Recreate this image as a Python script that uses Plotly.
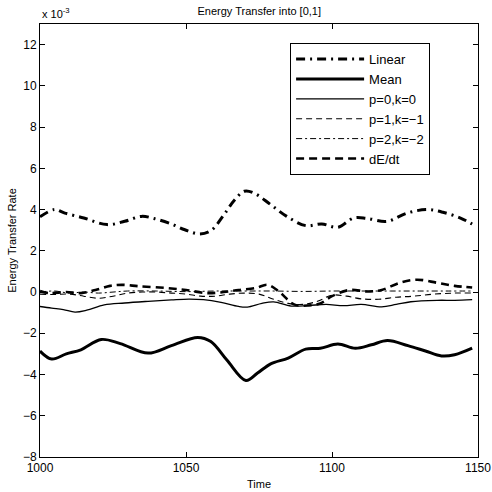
import plotly.graph_objects as go

# ---- data (values in units of 1e-3) ----
t_linear = [1000, 1005, 1008.5, 1015, 1023, 1029, 1034.7, 1039, 1045, 1049.6, 1054.7, 1058.7, 1063, 1066.7, 1070, 1073.3,
            1079, 1084.5, 1091, 1096.5, 1102, 1107.4, 1112, 1118.8, 1125.7, 1132.5, 1138, 1144, 1148]
v_linear = [3.65, 4.0, 3.83, 3.59, 3.27, 3.43, 3.67, 3.57, 3.3, 3.02, 2.82, 3.0, 3.75, 4.48, 4.89, 4.8,
            4.24, 3.67, 3.22, 3.3, 3.14, 3.59, 3.57, 3.43, 3.83, 4.0, 3.87, 3.59, 3.3]

t_mean = [1000, 1004, 1009, 1014, 1021, 1027.5, 1037, 1045, 1054, 1058.5, 1064, 1070.5, 1074.5, 1079, 1085, 1091,
          1096, 1102, 1108, 1113.5, 1119, 1126, 1132, 1137.5, 1142, 1148]
v_mean = [-2.86, -3.25, -3.0, -2.8, -2.3, -2.5, -2.96, -2.6, -2.2, -2.4, -3.3, -4.29, -3.93, -3.48, -3.2, -2.77,
          -2.73, -2.52, -2.73, -2.56, -2.35, -2.6, -2.86, -3.1, -3.04, -2.72]

t_p0 = [1000, 1004, 1008, 1012, 1016, 1022, 1029, 1037, 1045, 1051, 1056, 1062, 1068, 1071, 1076, 1080, 1086,
        1092, 1098, 1104, 1110, 1117, 1122, 1127, 1136, 1142, 1148]
v_p0 = [-0.7, -0.78, -0.85, -0.97, -0.88, -0.62, -0.53, -0.45, -0.38, -0.34, -0.37, -0.5, -0.7, -0.73, -0.55,
        -0.48, -0.68, -0.65, -0.6, -0.66, -0.6, -0.72, -0.6, -0.47, -0.4, -0.4, -0.37]

t_p1 = [1000, 1005, 1010, 1015, 1020, 1025, 1030, 1035, 1040, 1045, 1050, 1055, 1060, 1065, 1070, 1075, 1080,
        1085, 1090, 1095, 1100, 1105, 1110, 1116, 1122, 1128, 1135, 1142, 1148]
v_p1 = [-0.1, -0.12, -0.1, -0.2, -0.3, -0.2, -0.05, 0.0, 0.0, -0.05, -0.1, -0.2, -0.2, -0.1, -0.05, -0.1, -0.35,
        -0.55, -0.6, -0.45, -0.15, -0.2, -0.33, -0.35, -0.25, -0.2, -0.1, -0.05, -0.05]

t_p2 = [1000, 1005, 1010, 1015, 1020, 1025, 1030, 1040, 1050, 1060, 1070, 1080, 1090, 1100, 1110, 1120, 1130,
        1140, 1148]
v_p2 = [0.0, 0.05, -0.05, 0.0, -0.05, 0.0, 0.05, 0.05, 0.02, 0.05, 0.05, 0.05, 0.03, 0.05, 0.05, 0.05, 0.05,
        0.05, 0.05]

t_dedt = [1000, 1003, 1009, 1014, 1019, 1024, 1028, 1034, 1043, 1050, 1057, 1063, 1068, 1074, 1078, 1082, 1087,
          1092, 1096, 1100, 1106, 1112, 1117, 1123, 1129, 1136, 1142, 1148]
v_dedt = [0.05, -0.05, 0.0, -0.05, 0.1, 0.3, 0.35, 0.28, 0.2, 0.1, -0.05, 0.0, 0.1, 0.2, 0.35, 0.0, -0.6,
          -0.65, -0.55, -0.2, 0.1, 0.03, 0.1, 0.44, 0.6, 0.45, 0.3, 0.22]

x_ticks = [1000, 1050, 1100, 1150]
y_ticks = [-8, -6, -4, -2, 0, 2, 4, 6, 8, 10, 12]

FONT = "Liberation Sans, Arial, sans-serif"

fig = go.Figure()
series = [
    ("Linear", t_linear, v_linear, 3, "9px,5px,2px,5px"),
    ("Mean", t_mean, v_mean, 3, "solid"),
    ("p=0,k=0", t_p0, v_p0, 1.3, "solid"),
    ("p=1,k=\u22121", t_p1, v_p1, 1.1, "6px,4px"),
    ("p=2,k=\u22122", t_p2, v_p2, 1.0, "6px,3px,2px,3px"),
    ("dE/dt", t_dedt, v_dedt, 2.6, "8px,5px"),
]
for name, t, v, w, dash in series:
    fig.add_trace(go.Scatter(x=t, y=v, mode="lines", name=name,
                             line=dict(color="black", width=w, dash=dash, shape="spline", smoothing=1.0)))

axis_common = dict(showline=True, linecolor="black", linewidth=1, mirror="ticks", ticks="inside",
                   ticklen=5, tickcolor="black", showgrid=False, zeroline=False, automargin=False,
                   tickfont=dict(family=FONT, size=12, color="black"))

fig.update_layout(
    width=492, height=492,
    margin=dict(l=40, r=14, t=24, b=35),
    paper_bgcolor="white", plot_bgcolor="white",
    font=dict(family=FONT, color="black", size=11),
    title=dict(text="Energy Transfer into [0,1]", x=0.527, xanchor="center", y=0.985, yanchor="top",
               font=dict(family=FONT, size=11, color="black")),
    xaxis=dict(range=[1000, 1150], tickvals=x_ticks, title=dict(text="Time", standoff=5,
               font=dict(family=FONT, size=11)), **axis_common),
    yaxis=dict(range=[-8, 13], tickvals=y_ticks, title=dict(text="Energy Transfer Rate", standoff=4,
               font=dict(family=FONT, size=11)), **axis_common),
    legend=dict(x=0.571, y=0.956, xanchor="left", yanchor="top", bgcolor="white",
                bordercolor="black", borderwidth=1, font=dict(family=FONT, size=13, color="black"),
                tracegroupgap=0, itemwidth=68),
    showlegend=True,
)
fig.add_annotation(text="x 10<sup>-3</sup>", xref="paper", yref="paper", x=0.0, y=1.0,
                   xanchor="left", yanchor="bottom", showarrow=False, yshift=2,
                   font=dict(family=FONT, size=11, color="black"))

fig.write_html("out.html", config={"displayModeBar": False},
               post_script="document.body.style.margin='0';")
